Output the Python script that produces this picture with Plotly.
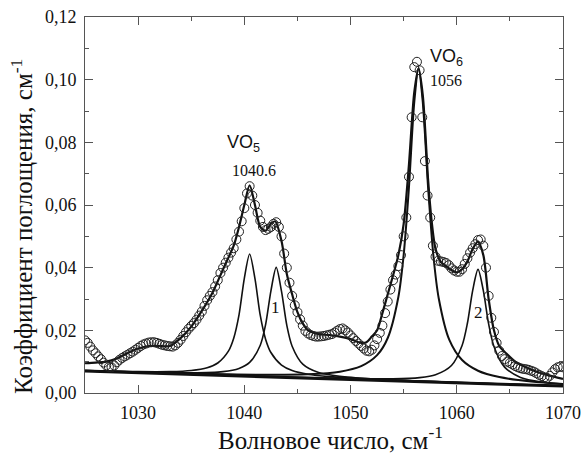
import plotly.graph_objects as go

# ---- experimental spectrum (open circles) ----
data_x = [
    1025.0, 1025.25, 1025.5, 1025.75, 1026.0, 1026.25, 1026.5, 1026.75, 1027.0, 1027.25,
    1027.5, 1027.75, 1028.0, 1028.25, 1028.5, 1028.75, 1029.0, 1029.25, 1029.5, 1029.75,
    1030.0, 1030.25, 1030.5, 1030.75, 1031.0, 1031.25, 1031.5, 1031.75, 1032.0, 1032.25,
    1032.5, 1032.75, 1033.0, 1033.25, 1033.5, 1033.75, 1034.0, 1034.25, 1034.5, 1034.75,
    1035.0, 1035.25, 1035.5, 1035.75, 1036.0, 1036.25, 1036.5, 1036.75, 1037.0, 1037.25,
    1037.5, 1037.75, 1038.0, 1038.25, 1038.5, 1038.75, 1039.0, 1039.25, 1039.5, 1039.75,
    1040.0, 1040.25, 1040.5, 1040.75, 1041.0, 1041.25, 1041.5, 1041.75, 1042.0, 1042.25,
    1042.5, 1042.75, 1043.0, 1043.25, 1043.5, 1043.75, 1044.0, 1044.25, 1044.5, 1044.75,
    1045.0, 1045.25, 1045.5, 1045.75, 1046.0, 1046.25, 1046.5, 1046.75, 1047.0, 1047.25,
    1047.5, 1047.75, 1048.0, 1048.25, 1048.5, 1048.75, 1049.0, 1049.25, 1049.5, 1049.75,
    1050.0, 1050.25, 1050.5, 1050.75, 1051.0, 1051.25, 1051.5, 1051.75, 1052.0, 1052.25,
    1052.5, 1052.75, 1053.0, 1053.25, 1053.5, 1053.75, 1054.0, 1054.25, 1054.5, 1054.75,
    1055.0, 1055.25, 1055.5, 1055.75, 1056.0, 1056.25, 1056.5, 1056.75, 1057.0, 1057.25,
    1057.5, 1057.75, 1058.0, 1058.25, 1058.5, 1058.75, 1059.0, 1059.25, 1059.5, 1059.75,
    1060.0, 1060.25, 1060.5, 1060.75, 1061.0, 1061.25, 1061.5, 1061.75, 1062.0, 1062.25,
    1062.5, 1062.75, 1063.0, 1063.25, 1063.5, 1063.75, 1064.0, 1064.25, 1064.5, 1064.75,
    1065.0, 1065.25, 1065.5, 1065.75, 1066.0, 1066.25, 1066.5, 1066.75, 1067.0, 1067.25,
    1067.5, 1067.75, 1068.0, 1068.25, 1068.5, 1068.75, 1069.0, 1069.25, 1069.5, 1069.75,
    1070.0,
]
data_y = [
    0.0168, 0.0160, 0.0148, 0.0136, 0.0127, 0.0117, 0.0108, 0.0097, 0.0088, 0.0083,
    0.0082, 0.0088, 0.0098, 0.0106, 0.0112, 0.0117, 0.0122, 0.0127, 0.0132, 0.0138,
    0.0144, 0.0150, 0.0155, 0.0158, 0.0161, 0.0162, 0.0162, 0.0160, 0.0157, 0.0154,
    0.0152, 0.0150, 0.0149, 0.0148, 0.0152, 0.0160, 0.0170, 0.0182, 0.0194, 0.0205,
    0.0214, 0.0223, 0.0234, 0.0247, 0.0260, 0.0278, 0.0296, 0.0310, 0.0322, 0.0340,
    0.0360, 0.0383, 0.0400, 0.0416, 0.0432, 0.0448, 0.0462, 0.0490, 0.0515, 0.0548,
    0.0590, 0.0637, 0.0660, 0.0630, 0.0600, 0.0575, 0.0550, 0.0530, 0.0520, 0.0524,
    0.0530, 0.0540, 0.0545, 0.0530, 0.0500, 0.0445, 0.0400, 0.0352, 0.0310, 0.0280,
    0.0258, 0.0235, 0.0215, 0.0198, 0.0190, 0.0185, 0.0182, 0.0180, 0.0180, 0.0181,
    0.0182, 0.0184, 0.0186, 0.0188, 0.0193, 0.0199, 0.0204, 0.0206, 0.0200, 0.0193,
    0.0184, 0.0175, 0.0166, 0.0158, 0.0150, 0.0142, 0.0135, 0.0133, 0.0138, 0.0152,
    0.0172, 0.0192, 0.0215, 0.0255, 0.0292, 0.0330, 0.0360, 0.0378, 0.0405, 0.0440,
    0.0500, 0.0560, 0.0690, 0.0880, 0.1040, 0.1057, 0.1030, 0.0880, 0.0740, 0.0630,
    0.0560, 0.0470, 0.0435, 0.0422, 0.0420, 0.0418, 0.0415, 0.0408, 0.0398, 0.0391,
    0.0387, 0.0387, 0.0395, 0.0412, 0.0430, 0.0448, 0.0462, 0.0475, 0.0488, 0.0490,
    0.0470, 0.0400, 0.0310, 0.0240, 0.0195, 0.0160, 0.0135, 0.0118, 0.0108, 0.0100,
    0.0096, 0.0091, 0.0086, 0.0082, 0.0079, 0.0077, 0.0076, 0.0074, 0.0071, 0.0068,
    0.0063, 0.0058, 0.0054, 0.0050, 0.0048, 0.0055, 0.0066, 0.0076, 0.0082, 0.0084,
    0.0082,
]

# ---- total fitted envelope ----
fit_x = [1025, 1026, 1027, 1028, 1029, 1030, 1031, 1032, 1033, 1034, 1035, 1036, 1037,
         1038, 1038.5, 1039, 1039.5, 1040, 1040.5, 1041, 1041.5, 1042, 1042.5, 1042.9,
         1043.5, 1044, 1044.5, 1045, 1045.5, 1046, 1047, 1048, 1049, 1050, 1050.5, 1051,
         1051.5, 1052, 1052.5, 1053, 1053.5, 1054, 1054.5, 1055, 1055.5, 1056, 1056.4,
         1056.8, 1057.3, 1057.6, 1058, 1058.5, 1059, 1059.5, 1060, 1060.5, 1061, 1061.5,
         1062, 1062.5, 1063, 1063.5, 1064, 1064.7, 1065.5, 1066.5, 1067.5, 1068.5, 1070]
fit_y = [0.0095, 0.0097, 0.0100, 0.0110, 0.0127, 0.0142, 0.0150, 0.0150, 0.0150, 0.0175,
         0.0212, 0.0262, 0.0320, 0.0395, 0.0432, 0.0470, 0.0530, 0.0600, 0.0663, 0.0600,
         0.0530, 0.0518, 0.0540, 0.0548, 0.0485, 0.0380, 0.0315, 0.0258, 0.0222, 0.0200,
         0.0188, 0.0185, 0.0180, 0.0172, 0.0165, 0.0160, 0.0162, 0.0180, 0.0200, 0.0255,
         0.0315, 0.0375, 0.0440, 0.0540, 0.0730, 0.0960, 0.1036, 0.0950, 0.0680, 0.0560,
         0.0460, 0.0418, 0.0405, 0.0392, 0.0385, 0.0395, 0.0420, 0.0460, 0.0483, 0.0440,
         0.0300, 0.0200, 0.0150, 0.0125, 0.0100, 0.0082, 0.0068, 0.0058, 0.0045]

# ---- linear baseline ----
base_x = [1025, 1070]
base_y = [0.0070, 0.0022]

# ---- VO5 band at 1040.6 ----
vo5_x = [1025, 1030, 1033, 1035, 1036.5, 1037.5, 1038.5, 1039, 1039.5, 1040, 1040.5,
         1041, 1041.5, 1042, 1042.5, 1043.5, 1044.5, 1046, 1048, 1050, 1055, 1060, 1070]
vo5_y = [0.00716, 0.00682, 0.00683, 0.00718, 0.00806, 0.00957, 0.01336, 0.01751, 0.02495,
         0.0366, 0.04435, 0.03649, 0.02474, 0.01719, 0.01293, 0.00893, 0.00721, 0.00601,
         0.00523, 0.00476, 0.00398, 0.00337, 0.00224]

# ---- band 1 at 1043 ----
b1_x = [1025, 1030, 1035, 1038, 1039.5, 1040.5, 1041.5, 1042, 1042.5, 1043, 1043.5, 1044,
        1044.5, 1045.5, 1047, 1049, 1052, 1056, 1062, 1070]
b1_y = [0.0071, 0.00666, 0.00642, 0.00683, 0.00785, 0.00976, 0.01526, 0.02179, 0.03253,
        0.04008, 0.03243, 0.02157, 0.01494, 0.00922, 0.00652, 0.0053, 0.00451, 0.00388,
        0.00314, 0.00224]

# ---- VO6 band at 1056 ----
vo6_x = [1025, 1035, 1042, 1046, 1049, 1051, 1052.5, 1053.5, 1054.5, 1055, 1055.5, 1056,
         1056.4, 1056.8, 1057.3, 1057.8, 1058.3, 1059.3, 1060.5, 1062, 1064, 1067, 1070]
vo6_y = [0.00713, 0.00622, 0.00582, 0.00597, 0.0068, 0.00857, 0.01207, 0.01755, 0.03065,
         0.0441, 0.0658, 0.0929, 0.10365, 0.0928, 0.0656, 0.0438, 0.03025, 0.01693,
         0.01051, 0.0071, 0.00508, 0.00368, 0.00291]

# ---- band 2 at 1062 ----
b2_x = [1025, 1040, 1050, 1054, 1056.5, 1058, 1059.5, 1060.5, 1061, 1061.5, 1062, 1062.5,
        1063, 1063.5, 1064.5, 1066, 1068, 1070]
b2_y = [0.00703, 0.00548, 0.00461, 0.00453, 0.00492, 0.00583, 0.00878, 0.01518, 0.02225,
        0.03278, 0.03945, 0.03267, 0.02204, 0.01487, 0.00825, 0.00498, 0.00349, 0.00282]

# ---- labels ----
label_text = ["VO<sub>5</sub>", "1040.6", "VO<sub>6</sub>", "1056", "1", "2"]
label_x = [1039.9, 1040.9, 1059.0, 1059.0, 1042.9, 1062.0]
label_y = [0.0797, 0.0711, 0.1072, 0.0998, 0.0274, 0.0258]
SERIF = "Liberation Serif, Times New Roman, DejaVu Serif, serif"
SANS = "Liberation Sans, Arial, sans-serif"
label_font = [SANS, SERIF, SANS, SERIF, SERIF, SERIF]
label_size = [18, 16, 18, 16, 17, 17]

x_title = "Волновое число, см<sup>-1</sup>"
y_title = "Коэффициент поглощения, см<sup>-1</sup>"

fig = go.Figure()
line_col = "#111111"
for xs, ys, w in [(base_x, base_y, 3), (vo5_x, vo5_y, 1.6), (b1_x, b1_y, 1.6),
                  (vo6_x, vo6_y, 2.0), (b2_x, b2_y, 1.6)]:
    fig.add_trace(go.Scatter(x=xs, y=ys, mode="lines", line=dict(color=line_col, width=w,
                  shape="spline", smoothing=0.8), showlegend=False, hoverinfo="skip"))
fig.add_trace(go.Scatter(x=fit_x, y=fit_y, mode="lines",
                         line=dict(color=line_col, width=2.2, shape="spline", smoothing=0.8),
                         showlegend=False))
fig.add_trace(go.Scatter(x=data_x, y=data_y, mode="markers",
                         marker=dict(symbol="circle-open", size=9, color="#222222",
                                     line=dict(width=1)),
                         showlegend=False))

for t, x, y, f, s in zip(label_text, label_x, label_y, label_font, label_size):
    fig.add_annotation(x=x, y=y, xref="x", yref="y", text=t, showarrow=False,
                       font=dict(family=f, size=s, color="#111111"))

fig.add_annotation(x=0.513, y=-0.12, xref="paper", yref="paper", text=x_title,
                   showarrow=False, xanchor="center", yanchor="middle",
                   font=dict(family=SERIF, size=25, color="#111111"))
fig.add_annotation(x=-0.132, y=0.444, xref="paper", yref="paper", text=y_title,
                   showarrow=False, xanchor="center", yanchor="middle", textangle=-90,
                   font=dict(family=SERIF, size=25, color="#111111"))

axis_common = dict(showline=True, linecolor="#555555", linewidth=1, mirror="ticks",
                   ticks="inside", ticklen=8, tickwidth=1, tickcolor="#555555",
                   showgrid=False, zeroline=False, automargin=False,
                   ticklabeloverflow="allow",
                   tickfont=dict(family=SERIF, size=18, color="#111111"))
fig.update_xaxes(range=[1025, 1070], dtick=10, tick0=1030, ticklabelstandoff=3,
                 minor=dict(dtick=5, ticks="inside", ticklen=4, tickcolor="#555555"),
                 **axis_common)
fig.update_yaxes(range=[0, 0.12], dtick=0.02, tick0=0, tickformat=".2f",
                 ticklabelstandoff=4,
                 minor=dict(dtick=0.01, ticks="inside", ticklen=4, tickcolor="#555555"),
                 **axis_common)

fig.update_layout(width=582, height=459, margin=dict(l=85, r=19, t=17, b=66),
                  paper_bgcolor="white", plot_bgcolor="white", separators=", ",
                  font=dict(family=SERIF))
# remove the browser's default 8px page margin so the figure fills the window exactly
fig.write_html("out.html", config={"displayModeBar": False},
               post_script="document.body.style.margin='0';document.body.style.overflow='hidden';")
